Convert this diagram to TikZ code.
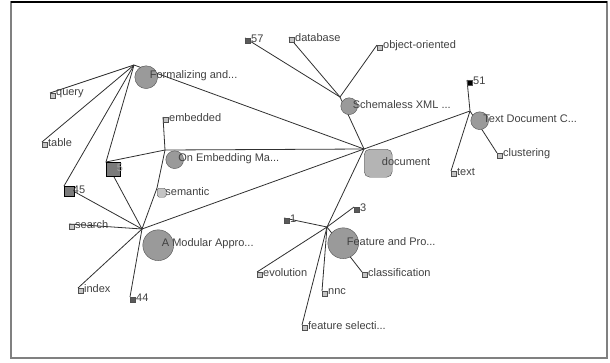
\documentclass[tikz,border=0pt]{standalone}
\usepackage{fontspec}
\setmainfont{Liberation Sans}
\usetikzlibrary{backgrounds}
\definecolor{PaperFill}{HTML}{9A9A9A}
\definecolor{PaperLine}{HTML}{505050}
\definecolor{DocFill}{HTML}{B4B4B4}
\definecolor{KwFill}{HTML}{C4C4C4}
\definecolor{NumFill}{HTML}{5A5A5A}
\definecolor{LinkGray}{HTML}{303030}
\definecolor{LabelGray}{HTML}{404040}

\begin{document}
\begin{tikzpicture}[
  x=1pt,y=-1pt,
  font=\fontsize{11}{13}\selectfont,
  lbl/.style={anchor=west,inner sep=0pt,xshift=3.5pt,yshift=1.5pt,text=LabelGray},
  paper/.style={rectangle,inner sep=0pt,minimum size=#1,anchor=north west,
    path picture={\draw[PaperLine,fill=PaperFill] (path picture bounding box.center) circle (#1/2-0.6pt);}},
  kw/.style={rectangle,draw=PaperLine,fill=KwFill,inner sep=0pt,minimum size=4.5pt,anchor=north west},
  num/.style={kw,fill=NumFill},
  author/.style={rectangle,draw=black,fill=NumFill!80!white,inner sep=0pt,minimum size=#1,anchor=north west},
  term/.style={rectangle,rounded corners=#1/5,draw=PaperLine,fill=DocFill,inner sep=0pt,minimum size=#1,anchor=north west},
  link/.style={LinkGray,line width=0.8pt}
]
  \useasboundingbox (0,0) rectangle (610,362);

  \node[paper=24pt] (form) at (134,65) {};
  \node[paper=18pt] (schem) at (340,97) {};
  \node[paper=19pt] (textdoc) at (470,111) {};
  \node[paper=19pt] (embed) at (165,150) {};
  \node[paper=32pt] (modular) at (142,229) {};
  \node[paper=32pt] (feature) at (327,227) {};

  \node[term=28pt] (doc) at (364,149) {};
  \node[term=9pt,fill=KwFill] (semantic) at (157,188) {};
  \node[author=10pt] (n45) at (64,186) {};
  \node[author=14pt] (n7) at (106,162) {};

  \node[kw] (query) at (50,93) {};
  \node[kw] (table) at (42,142) {};
  \node[kw] (embedded) at (163,117) {};
  \node[kw] (search) at (69,224) {};
  \node[kw] (index) at (78,288) {};
  \node[num] (n44) at (130,297) {};
  \node[num] (n57) at (245,38) {};
  \node[kw] (database) at (289,37) {};
  \node[kw] (objor) at (377,45) {};
  \node[num,fill=black] (n51) at (467,80) {};
  \node[kw] (clustering) at (497,153) {};
  \node[kw] (kwtext) at (451,171) {};
  \node[num] (n1) at (284,218) {};
  \node[num] (n3) at (354,207) {};
  \node[kw] (evolution) at (257,272) {};
  \node[kw] (nnc) at (322,291) {};
  \node[kw] (classif) at (362,272) {};
  \node[kw] (featsel) at (302,325) {};

  \node[lbl] (formL) at (form.center) {Formalizing and...};
  \node[lbl] (schemL) at (schem.center) {Schemaless XML ...};
  \node[lbl] (textdocL) at (textdoc.center) {Text Document C...};
  \node[lbl] (embedL) at (embed.center) {On Embedding Ma...};
  \node[lbl] (modularL) at (modular.center) {A Modular Appro...};
  \node[lbl] (featureL) at (feature.center) {Feature and Pro...};
  \node[lbl] (docL) at (doc.center) {document};
  \node[lbl] (semanticL) at (semantic.center) {semantic};
  \node[lbl] (n45L) at (n45.center) {45};
  \node[lbl,text=gray!70] (n7L) at (n7.center) {5};
  \node[lbl] (queryL) at (query.center) {query};
  \node[lbl] (tableL) at (table.center) {table};
  \node[lbl] (embeddedL) at (embedded.center) {embedded};
  \node[lbl] (searchL) at (search.center) {search};
  \node[lbl] (indexL) at (index.center) {index};
  \node[lbl] (n44L) at (n44.center) {44};
  \node[lbl] (n57L) at (n57.center) {57};
  \node[lbl] (databaseL) at (database.center) {database};
  \node[lbl] (objorL) at (objor.center) {object-oriented};
  \node[lbl] (n51L) at (n51.center) {51};
  \node[lbl] (clusteringL) at (clustering.center) {clustering};
  \node[lbl] (kwtextL) at (kwtext.center) {text};
  \node[lbl] (n1L) at (n1.center) {1};
  \node[lbl] (n3L) at (n3.center) {3};
  \node[lbl] (evolutionL) at (evolution.center) {evolution};
  \node[lbl] (nncL) at (nnc.center) {nnc};
  \node[lbl] (classifL) at (classif.center) {classification};
  \node[lbl] (featselL) at (featsel.center) {feature selecti...};

  \begin{scope}[on background layer]
    \draw[link] (form.north west) -- (query.north west);
    \draw[link] (form.north west) -- (table.north west);
    \draw[link] (form.north west) -- (n45.north west);
    \draw[link] (form.north west) -- (n7.north west);
    \draw[link] (form.north west) -- (doc.north west);
    \draw[link] (modular.north west) -- (n45.north west);
    \draw[link] (modular.north west) -- (n7.north west);
    \draw[link] (modular.north west) -- (semantic.north west);
    \draw[link] (modular.north west) -- (search.north west);
    \draw[link] (modular.north west) -- (index.north west);
    \draw[link] (modular.north west) -- (n44.north west);
    \draw[link] (modular.north west) -- (doc.north west);
    \draw[link] (embed.north west) -- (n7.north west);
    \draw[link] (embed.north west) -- (embedded.north west);
    \draw[link] (embed.north west) -- (semantic.north west);
    \draw[link] (embed.north west) -- (doc.north west);
    \draw[link] (schem.north west) -- (n57.north west);
    \draw[link] (schem.north west) -- (database.north west);
    \draw[link] (schem.north west) -- (objor.north west);
    \draw[link] (schem.north west) -- (doc.north west);
    \draw[link] (textdoc.north west) -- (n51.north west);
    \draw[link] (textdoc.north west) -- (clustering.north west);
    \draw[link] (textdoc.north west) -- (kwtext.north west);
    \draw[link] (textdoc.north west) -- (doc.north west);
    \draw[link] (feature.north west) -- (n1.north west);
    \draw[link] (feature.north west) -- (n3.north west);
    \draw[link] (feature.north west) -- (evolution.north west);
    \draw[link] (feature.north west) -- (nnc.north west);
    \draw[link] (feature.north west) -- (classif.north west);
    \draw[link] (feature.north west) -- (featsel.north west);
    \draw[link] (feature.north west) -- (doc.north west);
  \end{scope}

  \draw[gray,line width=1.5pt] (11,2) rectangle (607,358);
  \draw[black,line width=1.2pt] (11,2) -- (607,2);
\end{tikzpicture}
\end{document}
